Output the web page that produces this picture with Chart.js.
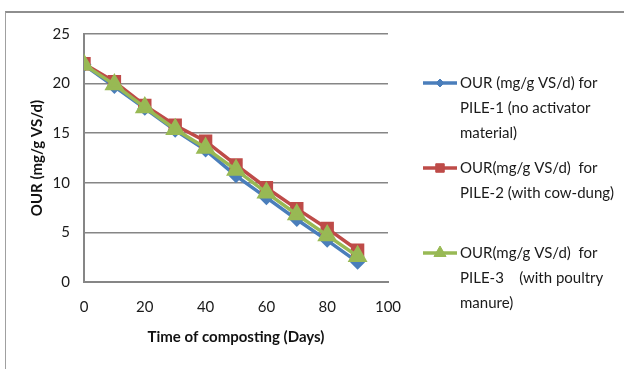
<!DOCTYPE html>
<html>
<head>
<meta charset="utf-8">
<script src="https://cdn.jsdelivr.net/npm/chart.js@4"></script>
<style>
  html, body { margin: 0; padding: 0; background: #fff; }
  .wrap { position: relative; width: 624px; height: 369px; overflow: hidden; }
  .frame { position: absolute; left: 5px; top: 11px; width: 640px; height: 400px;
           border-top: 2px solid #8e8e8e; border-left: 1px solid #a0a0a0; }
  canvas { position: absolute; left: 0; top: 0; }
</style>
</head>
<body>
<div class="wrap">
  <div class="frame"></div>
  <canvas id="chart" width="624" height="369"></canvas>
</div>
<script>
// ============================================================
// DATA
// ============================================================

const days  = [0, 10, 20, 30, 40, 50, 60, 70, 80, 90];
const pile1 = [21.9, 19.7, 17.5, 15.3, 13.3, 10.7, 8.5, 6.3, 4.2, 2.0];
const pile2 = [22.0, 20.2, 17.8, 15.8, 14.2, 11.8, 9.5, 7.4, 5.4, 3.2];
const pile3 = [21.9, 19.9, 17.6, 15.4, 13.5, 11.3, 9.0, 6.8, 4.7, 2.6];

const legend1 = ["OUR (mg/g VS/d) for", "PILE-1 (no activator", "material)"];
const legend2 = ["OUR(mg/g VS/d)  for", "PILE-2 (with cow-dung)"];
const legend3 = ["OUR(mg/g VS/d)  for", "PILE-3    (with poultry", "manure)"];

const xTitle = "Time of composting (Days)";
const yTitle = "OUR (mg/g VS/d)";

// ============================================================
// CHART
// ============================================================

const FONT = "Lato, 'Open Sans', sans-serif";
const GRID = "#868686";

function toPoints(ys) {
  return days.map((d, i) => ({ x: d, y: ys[i] }));
}

// legend drawn on the canvas, wrapped like the original
const legendPlugin = {
  id: "sideLegend",
  afterDraw(chart) {
    const ctx = chart.ctx;
    const blocks = [
      { lines: legend1, ds: 0, y: 83 },
      { lines: legend2, ds: 1, y: 168 },
      { lines: legend3, ds: 2, y: 253 },
    ];
    ctx.save();
    ctx.font = "15px " + FONT;
    ctx.textBaseline = "middle";
    blocks.forEach(b => {
      const ds = chart.data.datasets[b.ds];
      ctx.strokeStyle = ds.borderColor;
      ctx.lineWidth = 3.5;
      ctx.beginPath();
      ctx.moveTo(423, b.y);
      ctx.lineTo(457, b.y);
      ctx.stroke();
      ctx.fillStyle = ds.backgroundColor;
      ctx.lineWidth = 1;
      Chart.helpers.drawPoint(ctx, {
        pointStyle: ds.pointStyle,
        radius: ds.pointRadius - 1,
        borderWidth: 1,
      }, 440, b.y);
      ctx.fillStyle = "#1a1a1a";
      b.lines.forEach((t, i) => ctx.fillText(t, 460, b.y + i * 25));
    });
    ctx.restore();
  }
};

const ctx = document.getElementById("chart").getContext("2d");

new Chart(ctx, {
  type: "line",
  data: {
    datasets: [
      {
        data: toPoints(pile1),
        borderColor: "#4a7ebb",
        backgroundColor: "#4a7ebb",
        borderWidth: 3.5,
        pointStyle: "rectRot",
        pointRadius: 5,
        order: 3,
      },
      {
        data: toPoints(pile2),
        borderColor: "#be4b48",
        backgroundColor: "#be4b48",
        borderWidth: 3.5,
        pointStyle: "rect",
        pointRadius: 7,
        order: 2,
      },
      {
        data: toPoints(pile3),
        borderColor: "#98b954",
        backgroundColor: "#98b954",
        borderWidth: 3.5,
        pointStyle: "triangle",
        pointRadius: 8,
        order: 1,
      }
    ]
  },
  options: {
    responsive: false,
    animation: false,
    layout: { padding: { left: 0, top: 34, right: 236, bottom: 0 } },
    plugins: {
      legend: { display: false },
      tooltip: { enabled: false }
    },
    scales: {
      x: {
        type: "linear",
        min: 0,
        max: 100,
        ticks: { stepSize: 20, color: "#1a1a1a", padding: 16, font: { family: FONT, size: 15 } },
        grid: { display: false, drawTicks: false },
        border: { color: GRID, width: 2 },
        title: { display: true, text: xTitle, color: "#111", padding: { top: 0, bottom: 23 },
                 font: { family: FONT, size: 15, weight: "bold" } },
        afterFit: s => { s.height = 87; }
      },
      y: {
        min: 0,
        max: 25,
        ticks: { stepSize: 5, color: "#1a1a1a", padding: 14, font: { family: FONT, size: 15 } },
        grid: { color: GRID, lineWidth: 1.5, drawTicks: false },
        border: { color: GRID, width: 2 },
        title: { display: true, text: yTitle, color: "#111", padding: { top: 28 },
                 font: { family: FONT, size: 15, weight: "bold" } },
        afterFit: s => { s.width = 84; }
      }
    }
  },
  plugins: [legendPlugin]
});
</script>
</body>
</html>
